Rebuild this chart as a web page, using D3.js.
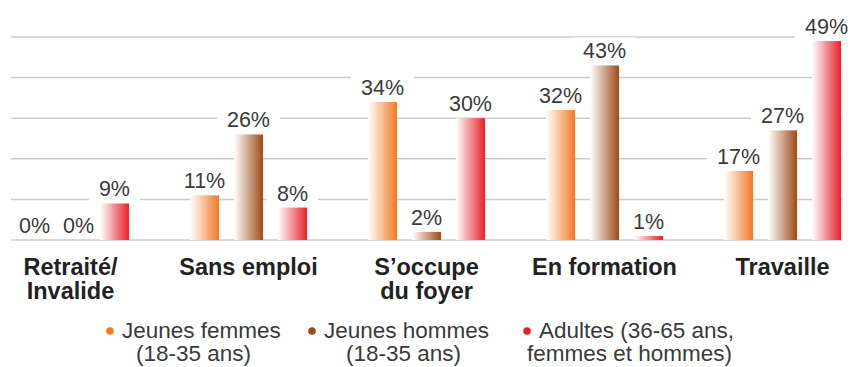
<!DOCTYPE html>
<html>
<head>
<meta charset="utf-8">
<script src="https://cdn.jsdelivr.net/npm/d3@7"></script>
<style>
  html, body { margin: 0; padding: 0; background: #fff; }
  svg { display: block; }
  text { font-family: "Liberation Sans", Arial, sans-serif; }
</style>
</head>
<body>
<svg id="chart" width="850" height="367"></svg>
<script>
// Activity categories (x groups), wrapped on "\n"
const categories = ["Retraité/\nInvalide", "Sans emploi", "S’occupe\ndu foyer", "En formation", "Travaille"];
// Population groups
const seriesKeys = ["femmes", "hommes", "adultes"];
const seriesLabels = [
  ["Jeunes femmes", "(18-35 ans)"],
  ["Jeunes hommes", "(18-35 ans)"],
  ["Adultes (36-65 ans,", "femmes et hommes)"]
];
const seriesColors = ["#F07A24", "#9E4B16", "#E8202A"];
// Shares in percent, one array per population group
const femmesValues  = [0, 11, 34, 32, 17];
const hommesValues  = [0, 26, 2, 43, 27];
const adultesValues = [9, 8, 30, 1, 49];
const gridTicks = [0, 10, 20, 30, 40, 50];

const seriesValues = [femmesValues, hommesValues, adultesValues];
const rows = categories.map((c, i) => ({
  category: c,
  values: seriesKeys.map((k, j) => ({ key: k, idx: j, value: seriesValues[j][i] }))
}));

const svg = d3.select("#chart");
const defs = svg.append("defs");

// Horizontal fade from white to the series colour
seriesKeys.forEach((k, j) => {
  const g = defs.append("linearGradient")
    .attr("id", "grad-" + k)
    .attr("x1", "0%").attr("x2", "100%").attr("y1", "0%").attr("y2", "0%");
  g.append("stop").attr("offset", "0%").attr("stop-color", "#ffffff");
  g.append("stop").attr("offset", "100%").attr("stop-color", seriesColors[j]);
});

const left = 12, right = 841;
const x0 = d3.scaleBand().domain(categories).range([left, right]).paddingInner(0.343).paddingOuter(0);
const x1 = d3.scaleBand().domain(seriesKeys).range([0, x0.bandwidth()]).paddingInner(0.341).paddingOuter(0);
const y = d3.scaleLinear().domain([0, 50]).range([240, 37]);

// Gridlines
const gridG = svg.append("g");
gridG.selectAll("line").data(gridTicks).join("line")
  .attr("x1", 11).attr("x2", 842)
  .attr("y1", d => y(d)).attr("y2", d => y(d))
  .attr("stroke", "#cbcbcb").attr("stroke-width", 1.5);

// Value label backgrounds knock the gridlines out behind the text
const labelBgG = svg.append("g");
const barsG = svg.append("g");
const labelsG = svg.append("g");

const groups = barsG.selectAll("g").data(rows).join("g")
  .attr("transform", d => `translate(${x0(d.category)},0)`);

groups.selectAll("rect").data(d => d.values).join("rect")
  .attr("x", d => x1(d.key))
  .attr("width", x1.bandwidth())
  .attr("y", d => y(d.value))
  .attr("height", d => y(0) - y(d.value))
  .attr("fill", d => `url(#grad-${d.key})`);

const flat = rows.flatMap(r => r.values.map(v => ({ ...v, cx: x0(r.category) + x1(v.key) + x1.bandwidth() / 2 })));

// Zero-value labels sit slightly right of their (empty) bar slot
const valueTexts = labelsG.selectAll("text").data(flat).join("text")
  .attr("x", d => d.cx + (d.value === 0 ? 8 : 0))
  .attr("y", d => y(d.value) - 7)
  .attr("text-anchor", "middle")
  .attr("font-size", 21.5)
  .attr("fill", "#3a3a3a")
  .text(d => d.value + "%");

valueTexts.each(function () {
  const b = this.getBBox();
  labelBgG.append("rect")
    .attr("x", b.x - 10).attr("y", b.y - 2)
    .attr("width", b.width + 20).attr("height", b.height + 2)
    .attr("fill", "#fff");
});

// Category labels
const catG = svg.append("g");
rows.forEach(r => {
  const cx = x0(r.category) + x0.bandwidth() / 2;
  const t = catG.append("text")
    .attr("x", cx)
    .attr("y", 275)
    .attr("text-anchor", "middle")
    .attr("font-size", 23.5)
    .attr("font-weight", "bold")
    .attr("fill", "#222");
  r.category.split("\n").forEach((line, i) => {
    t.append("tspan")
      .attr("x", cx)
      .attr("dy", i === 0 ? 0 : 24)
      .text(line);
  });
});

// Legend
const legendX = [110, 312, 527];
const legendSecondX = [136, 346, 527];
const legG = svg.append("g");
seriesKeys.forEach((k, j) => {
  legG.append("circle")
    .attr("cx", legendX[j]).attr("cy", 331).attr("r", 3.8)
    .attr("fill", seriesColors[j]);
  legG.append("text")
    .attr("x", legendX[j] + 12).attr("y", 338)
    .attr("font-size", 22.5).attr("fill", "#3a3a3a")
    .text(seriesLabels[j][0]);
  legG.append("text")
    .attr("x", legendSecondX[j]).attr("y", 361)
    .attr("font-size", 22.5).attr("fill", "#3a3a3a")
    .text(seriesLabels[j][1]);
});
</script>
</body>
</html>
